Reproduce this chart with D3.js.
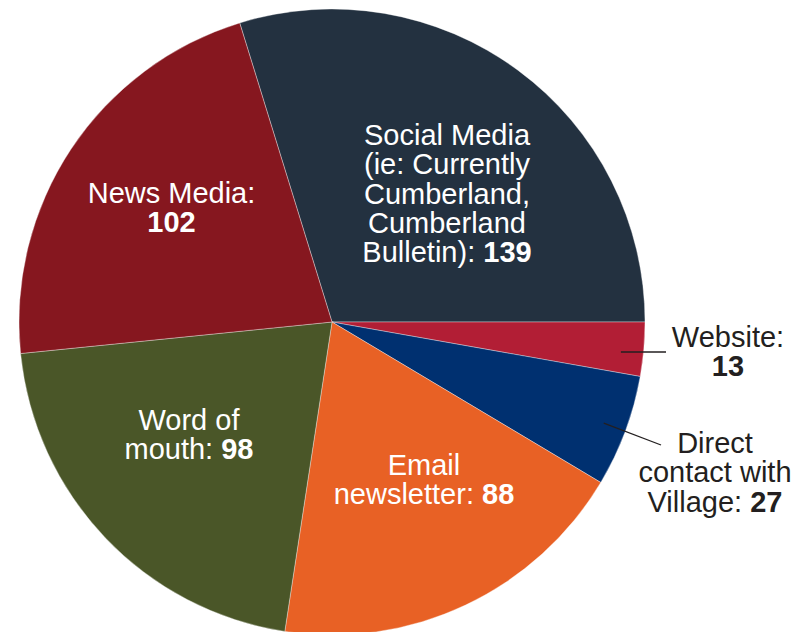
<!DOCTYPE html>
<html>
<head>
<meta charset="utf-8">
<script src="https://cdn.jsdelivr.net/npm/d3@7"></script>
<style>
  body { margin: 0; background: #fff; }
  svg { display: block; }
</style>
</head>
<body>
<div id="chart"></div>
<script>
// Slices in clockwise order, starting with Social Media
const categories = ["Social Media", "Website", "Direct contact", "Email newsletter", "Word of mouth", "News Media"];
const values = [139, 13, 27, 88, 98, 102];
const labelTexts = [
    "Social Media\n(ie: Currently\nCumberland,\nCumberland\nBulletin): {v}",
    "Website:\n{v}",
    "Direct\ncontact with\nVillage: {v}",
    "Email\nnewsletter: {v}",
    "Word of\nmouth: {v}",
    "News Media:\n{v}"
];
const colors = ["#233140", "#B21E35", "#003070", "#E86125", "#4A5628", "#86171F"];

// label placement (centre x, first baseline y); outside labels get a leader line
const labelPos = [
    { x: 447, y: 145, inside: true },
    { x: 728, y: 347, inside: false, lx: 666, ly: 352 },
    { x: 715, y: 453, inside: false, lx: 661, ly: 445 },
    { x: 424, y: 475, inside: true },
    { x: 189, y: 430, inside: true },
    { x: 171.5, y: 203, inside: true }
];

const width = 812, height = 632;
const cx = 332, cy = 322, radius = 313;
const lineHeight = 29.3;

const svg = d3.select("#chart").append("svg")
    .attr("width", width)
    .attr("height", height);

const total = d3.sum(values);
// Social Media ends exactly at 3 o'clock
const start = Math.PI / 2 - 2 * Math.PI * values[0] / total;

const pie = d3.pie()
    .sort(null)
    .startAngle(start)
    .endAngle(start + 2 * Math.PI);

const arcs = pie(values);
const arc = d3.arc().innerRadius(0).outerRadius(radius);

const g = svg.append("g").attr("transform", `translate(${cx},${cy})`);

g.selectAll("path.slice")
    .data(arcs)
    .enter()
    .append("path")
    .attr("class", "slice")
    .attr("d", arc)
    .attr("fill", (d, i) => colors[i])
    .attr("stroke", "#ffffff")
    .attr("stroke-opacity", 0.5)
    .attr("stroke-width", 0.7);

// leader lines for the small slices
arcs.forEach((d, i) => {
    const p = labelPos[i];
    if (p.inside) return;
    const mid = (d.startAngle + d.endAngle) / 2;
    const sx = cx + 290 * Math.sin(mid);
    const sy = cy - 290 * Math.cos(mid);
    svg.append("line")
        .attr("x1", sx).attr("y1", i === 1 ? p.ly : sy)
        .attr("x2", p.lx).attr("y2", p.ly)
        .attr("stroke", "#231F20")
        .attr("stroke-width", 1.3);
});

// labels
arcs.forEach((d, i) => {
    const p = labelPos[i];
    const lines = labelTexts[i].split("\n");
    const text = svg.append("text")
        .attr("x", p.x)
        .attr("y", p.y)
        .attr("text-anchor", "middle")
        .attr("font-family", "'Liberation Sans', Arial, sans-serif")
        .attr("font-size", "29px")
        .attr("fill", p.inside ? "#ffffff" : "#231F20");

    lines.forEach((line, j) => {
        const parts = line.split("{v}");
        const first = text.append("tspan")
            .attr("x", p.x)
            .attr("y", p.y + j * lineHeight)
            .text(parts[0]);
        if (parts.length > 1) {
            if (parts[0] === "") first.remove();
            const b = text.append("tspan")
                .attr("font-weight", "bold")
                .text(values[i]);
            if (parts[0] === "") b.attr("x", p.x).attr("y", p.y + j * lineHeight);
        }
    });
});
</script>
</body>
</html>
